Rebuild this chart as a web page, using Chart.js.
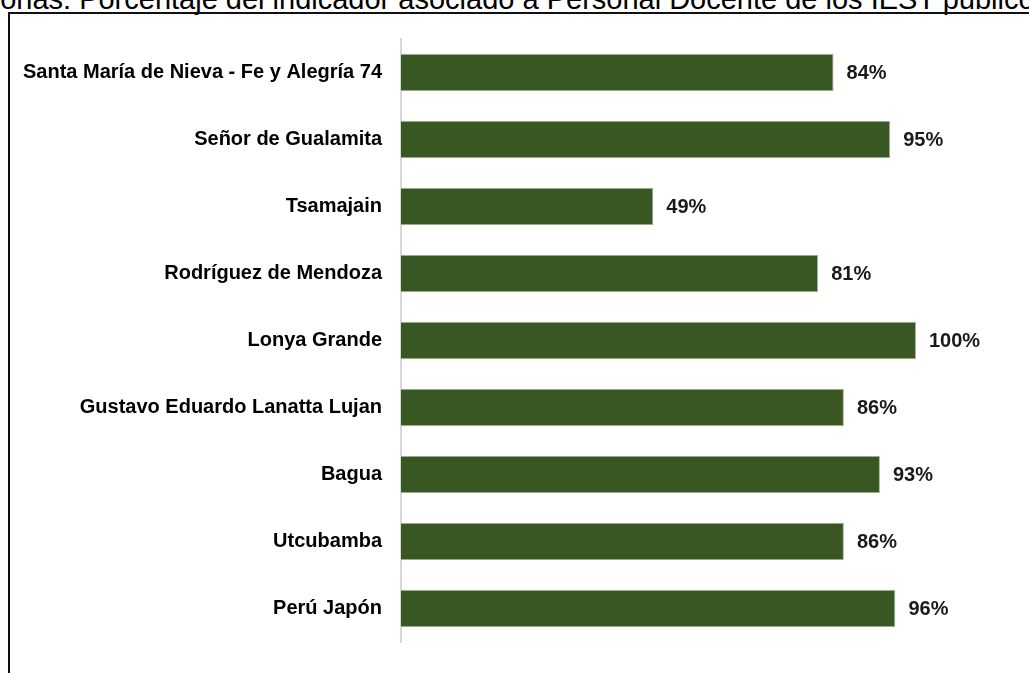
<!DOCTYPE html>
<html>
<head>
<meta charset="utf-8">
<script src="https://cdn.jsdelivr.net/npm/chart.js@4"></script>
<style>
  html, body { margin: 0; padding: 0; background: #fff; overflow: hidden; width: 1029px; height: 673px; }
  #title { position: absolute; left: -74px; top: -15px; white-space: nowrap; font: 29px/29px 'Liberation Sans', Arial, sans-serif; color: #000; }
  #frame { position: absolute; left: 8px; top: 12px; width: 1200px; height: 800px; border: 2px solid #111; }
  #myChart { position: absolute; left: 0; top: 0; }
</style>
</head>
<body>
<div id="title">Amazonas: Porcentaje del indicador asociado a Personal Docente de los IEST públicos</div>
<div id="frame"></div>
<canvas id="myChart" width="1029" height="673"></canvas>
<script>
let schools = [
  'Santa María de Nieva - Fe y Alegría 74',
  'Señor de Gualamita',
  'Tsamajain',
  'Rodríguez de Mendoza',
  'Lonya Grande',
  'Gustavo Eduardo Lanatta Lujan',
  'Bagua',
  'Utcubamba',
  'Perú Japón'
]
let percents = [84, 95, 49, 81, 100, 86, 93, 86, 96]

// writes "84%" right after each bar
let valueLabels = {
  id: 'valueLabels',
  afterDatasetsDraw(chart) {
    let ctx = chart.ctx
    let meta = chart.getDatasetMeta(0)
    ctx.save()
    ctx.font = 'bold 20px "Liberation Sans", Arial, sans-serif'
    ctx.fillStyle = '#1a1a1a'
    ctx.textAlign = 'left'
    ctx.textBaseline = 'middle'
    meta.data.forEach((bar, i) => {
      ctx.fillText(percents[i] + '%', bar.x + 13, bar.y + 1)
    })
    ctx.restore()
  }
}

var ctx = document.getElementById('myChart')
var myChart = new Chart(ctx, {
  type: 'bar',
  data: {
    labels: schools,
    datasets: [{
      data: percents,
      backgroundColor: '#385723',
      borderColor: '#a7b79c',
      borderWidth: 1,
      categoryPercentage: 1,
      barPercentage: 0.56
    }]
  },
  options: {
    indexAxis: 'y',
    responsive: false,
    animation: false,
    devicePixelRatio: 1,
    layout: { padding: { top: 39, bottom: 20, left: 0, right: 10 } },
    plugins: {
      legend: { display: false },
      tooltip: { enabled: false }
    },
    scales: {
      x: { display: false, min: 0, max: 120 },
      y: {
        afterFit: (scale) => { scale.width = 401 },
        grid: { display: false, drawTicks: false },
        border: { display: true, color: '#d9d9d9', width: 2 },
        ticks: {
          padding: 19,
          color: '#000',
          font: { family: '"Liberation Sans", Arial, sans-serif', size: 20, weight: 'bold' }
        }
      }
    }
  },
  plugins: [valueLabels]
})
</script>
</body>
</html>
